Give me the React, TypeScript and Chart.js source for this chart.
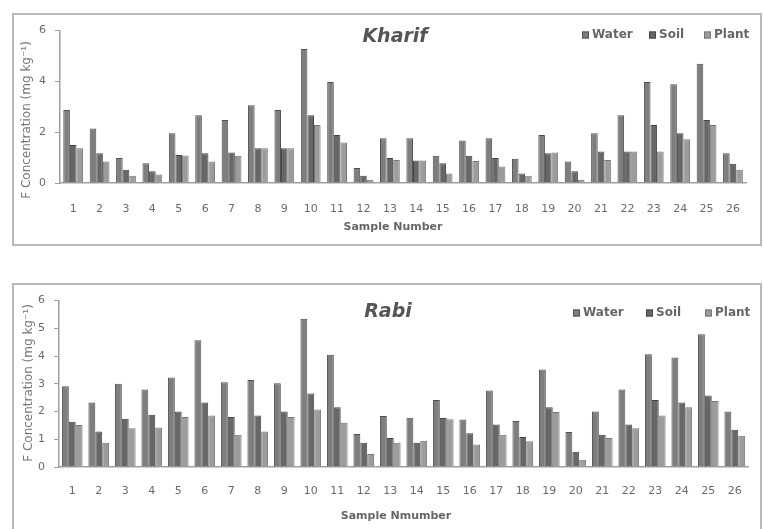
import React, { useEffect, useRef } from "react";
import { Chart, registerables } from "chart.js";

Chart.register(...registerables);

// ---------- data ----------
const samples = [
  "1", "2", "3", "4", "5", "6", "7", "8", "9", "10", "11", "12", "13",
  "14", "15", "16", "17", "18", "19", "20", "21", "22", "23", "24", "25", "26",
];
const seriesNames = ["Water", "Soil", "Plant"];

const kharifWater = [2.87, 2.15, 0.98, 0.78, 1.96, 2.67, 2.48, 3.06, 2.87, 5.28, 3.98, 0.59, 1.76, 1.76, 1.07, 1.67, 1.76, 0.95, 1.89, 0.85, 1.96, 2.67, 3.98, 3.89, 4.69, 1.17];
const kharifSoil = [1.5, 1.17, 0.52, 0.46, 1.1, 1.17, 1.2, 1.37, 1.37, 2.67, 1.89, 0.29, 0.98, 0.89, 0.78, 1.07, 0.98, 0.37, 1.17, 0.46, 1.24, 1.24, 2.28, 1.96, 2.48, 0.76];
const kharifPlant = [1.37, 0.85, 0.29, 0.33, 1.08, 0.85, 1.07, 1.37, 1.37, 2.28, 1.59, 0.13, 0.91, 0.89, 0.37, 0.87, 0.65, 0.29, 1.2, 0.13, 0.91, 1.24, 1.24, 1.72, 2.28, 0.52];

const rabiWater = [2.91, 2.33, 3.0, 2.79, 3.23, 4.57, 3.06, 3.14, 3.02, 5.35, 4.05, 1.19, 1.84, 1.78, 2.42, 1.71, 2.76, 1.66, 3.52, 1.26, 2.0, 2.79, 4.07, 3.95, 4.79, 2.0];
const rabiSoil = [1.63, 1.28, 1.74, 1.88, 2.0, 2.33, 1.8, 1.86, 2.0, 2.65, 2.15, 0.87, 1.05, 0.87, 1.77, 1.22, 1.53, 1.08, 2.15, 0.55, 1.16, 1.53, 2.42, 2.33, 2.58, 1.34];
const rabiPlant = [1.51, 0.87, 1.4, 1.42, 1.8, 1.86, 1.16, 1.28, 1.8, 2.07, 1.6, 0.47, 0.87, 0.95, 1.72, 0.81, 1.16, 0.93, 1.98, 0.26, 1.05, 1.4, 1.86, 2.15, 2.38, 1.13];

const kharifTicks = [0, 2, 4, 6];
const rabiTicks = [0, 1, 2, 3, 4, 5, 6];

// ---------- styling ----------
const fills = ["#7e7e7e", "#676767", "#9c9c9c"];
const borders = ["#505050", "#454545", "#777777"];
const FONT = "'DejaVu Sans', Arial, sans-serif";
const TXT = "#6a6a6a";

const overlayPlugin = {
  id: "overlay",
  afterDraw(chart: any, _args: any, opts: any) {
    const ctx = chart.ctx;
    (opts.texts || []).forEach((t: any) => {
      ctx.save();
      ctx.font = t.font;
      ctx.fillStyle = t.color;
      ctx.textAlign = "center";
      ctx.textBaseline = "middle";
      ctx.translate(t.x, t.y);
      if (t.rotate) ctx.rotate(t.rotate);
      ctx.fillText(t.text, 0, 0);
      ctx.restore();
    });
    const lg = opts.legend;
    if (lg) {
      chart.data.datasets.forEach((ds: any, i: number) => {
        const x = lg.x[i];
        ctx.save();
        ctx.fillStyle = ds.backgroundColor;
        ctx.strokeStyle = ds.borderColor;
        ctx.lineWidth = 1;
        ctx.fillRect(x, lg.y - 3.5, 7, 7);
        ctx.strokeRect(x + 0.5, lg.y - 3, 6, 6);
        ctx.font = lg.font;
        ctx.fillStyle = lg.color;
        ctx.textAlign = "left";
        ctx.textBaseline = "middle";
        ctx.fillText(ds.label, x + 10, lg.y);
        ctx.restore();
      });
    }
  },
};

function makeConfig(
  water: number[],
  soil: number[],
  plant: number[],
  ticks: number[],
  p: any
): any {
  const values = [water, soil, plant];
  return {
    type: "bar",
    data: {
      labels: samples,
      datasets: seriesNames.map((name, i) => ({
        label: name,
        data: values[i],
        backgroundColor: fills[i],
        borderColor: borders[i],
        borderWidth: 1,
        categoryPercentage: p.catPct,
        barPercentage: 1,
      })),
    },
    plugins: [overlayPlugin],
    options: {
      responsive: false,
      animation: false,
      layout: { padding: { top: p.padTop, right: p.padRight, left: 0, bottom: 0 } },
      plugins: {
        legend: { display: false },
        tooltip: { enabled: false },
        overlay: {
          texts: [
            { text: p.title, x: p.titleX, y: p.titleY, font: `italic bold 19px ${FONT}`, color: "#555" },
            { text: "F Concentration (mg kg\u207B\u00B9)", x: p.yTitleX, y: p.yTitleY, font: `12px ${FONT}`, color: "#777", rotate: -Math.PI / 2 },
            { text: p.xTitle, x: p.xTitleX, y: p.xTitleY, font: `bold 11px ${FONT}`, color: "#666" },
          ],
          legend: { x: p.legendX, y: p.legendY, font: `bold 12px ${FONT}`, color: "#666" },
        },
      },
      scales: {
        x: {
          grid: { display: false, drawTicks: false },
          border: { display: true, color: "#a0a0a0", width: 1.5 },
          ticks: { padding: p.xPad, color: TXT, font: { family: FONT, size: 11 }, maxRotation: 0, autoSkip: false },
          afterFit: (s: any) => { s.height = p.xHeight; },
        },
        y: {
          min: ticks[0],
          max: ticks[ticks.length - 1],
          afterBuildTicks: (s: any) => { s.ticks = ticks.map((v) => ({ value: v })); },
          grid: { display: true, drawOnChartArea: false, drawTicks: true, tickLength: 5, color: "#a0a0a0" },
          border: { display: true, color: "#a0a0a0", width: 1.5 },
          ticks: { padding: 9, color: TXT, font: { family: FONT, size: 11 } },
          afterFit: (s: any) => { s.width = p.yWidth; },
        },
      },
    },
  };
}

function Panel(props: { config: any; width: number; height: number }) {
  const ref = useRef<HTMLCanvasElement>(null);
  useEffect(() => {
    if (!ref.current) return;
    const chart = new Chart(ref.current, props.config);
    return () => chart.destroy();
  }, []);
  return (
    <canvas
      ref={ref}
      width={props.width}
      height={props.height}
      style={{ display: "block", width: props.width, height: props.height }}
    />
  );
}

const kharifConfig = makeConfig(kharifWater, kharifSoil, kharifPlant, kharifTicks, {
  catPct: 0.75, padTop: 15, padRight: 2, yWidth: 46, xHeight: 61, xPad: 20,
  title: "Kharif", titleX: 381, titleY: 22,
  yTitleX: 13, yTitleY: 105,
  xTitle: "Sample Number", xTitleX: 379, xTitleY: 212,
  legendX: [568, 635, 690], legendY: 20,
});

const rabiConfig = makeConfig(rabiWater, rabiSoil, rabiPlant, rabiTicks, {
  catPct: 0.78, padTop: 10, padRight: 11, yWidth: 45, xHeight: 62, xPad: 18,
  title: "Rabi", titleX: 374, titleY: 27,
  yTitleX: 15, yTitleY: 98,
  xTitle: "Sample Nmumber", xTitleX: 382, xTitleY: 231,
  legendX: [559, 632, 691], legendY: 28,
});

export default function App() {
  const box: React.CSSProperties = {
    position: "absolute",
    left: 12,
    width: 750,
    boxSizing: "border-box",
    border: "2px solid #b9b9b9",
    background: "#fff",
    overflow: "hidden",
  };
  return (
    <div style={{ position: "fixed", left: 0, top: 0, width: 763, height: 529, background: "#fff", overflow: "hidden" }}>
      <div style={{ ...box, top: 13, height: 233 }}>
        <Panel config={kharifConfig} width={746} height={229} />
      </div>
      <div style={{ ...box, top: 283, height: 262 }}>
        <Panel config={rabiConfig} width={746} height={244} />
      </div>
    </div>
  );
}
